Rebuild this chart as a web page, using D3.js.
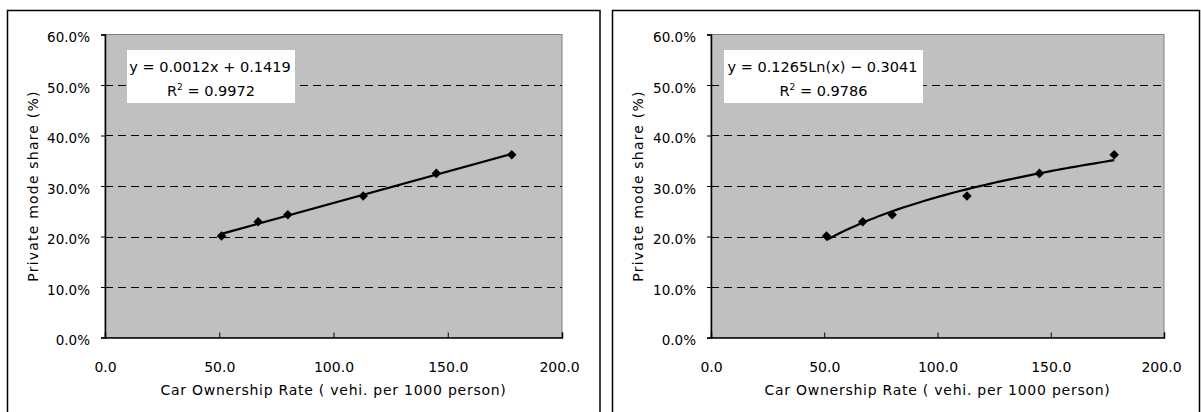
<!DOCTYPE html>
<html>
<head>
<meta charset="utf-8">
<script src="https://cdn.jsdelivr.net/npm/d3@7"></script>
<style>
  html, body { margin: 0; padding: 0; background: #fff; }
  svg { display: block; }
  text { font-family: "DejaVu Sans", sans-serif; fill: #000; }
</style>
</head>
<body>
<svg id="chart" width="1201" height="412"></svg>
<script>
// ---- data ----
const ownership = [51, 67, 80, 113, 145, 178];          // vehicles per 1000 persons
const privateShare = [0.201, 0.229, 0.243, 0.280, 0.325, 0.362]; // private mode share
const xTicks = [0, 50, 100, 150, 200];
const yTicks = [0, 0.1, 0.2, 0.3, 0.4, 0.5, 0.6];
const xTitle = "Car Ownership Rate ( vehi. per 1000 person)";
const yTitle = "Private mode share (%)";
const equationsLinear = ["y = 0.0012x + 0.1419", "0.9972"];
const equationsLog = ["y = 0.1265Ln(x) − 0.3041", "0.9786"];

const svg = d3.select("#chart");
const pts = ownership.map((x, i) => ({x, y: privateShare[i]}));

function linFit(xs, ys) {
  const n = xs.length, mx = d3.mean(xs), my = d3.mean(ys);
  let sxy = 0, sxx = 0;
  for (let i = 0; i < n; i++) { sxy += (xs[i]-mx)*(ys[i]-my); sxx += (xs[i]-mx)**2; }
  const b = sxy / sxx; return {b, a: my - b*mx};
}

function drawChart(cfg) {
  const g = svg.append("g");
  // outer frame
  g.append("path")
    .attr("d", `M${cfg.fx0},${420} V${cfg.fy0} H${cfg.fx1} V${420}`)
    .attr("fill", "none").attr("stroke", "#000").attr("stroke-width", 1.5);

  const x = d3.scaleLinear().domain([0, 200]).range([cfg.left, cfg.right]);
  const y = d3.scaleLinear().domain([0, 0.6]).range([cfg.bottom, cfg.top]);

  // plot area
  g.append("rect").attr("x", cfg.left).attr("y", cfg.top)
    .attr("width", cfg.right - cfg.left).attr("height", cfg.bottom - cfg.top)
    .attr("fill", "#c0c0c0").attr("stroke", "#808080").attr("stroke-width", 1);

  // gridlines
  g.selectAll(".grid").data(yTicks.filter(v => v > 0 && v < 0.6)).enter()
    .append("line")
    .attr("x1", cfg.left).attr("x2", cfg.right)
    .attr("y1", d => Math.round(y(d)) + 0.5).attr("y2", d => Math.round(y(d)) + 0.5)
    .attr("stroke", "#000").attr("stroke-width", 1).attr("stroke-dasharray", "8,5");

  // y axis
  const yAxis = d3.axisLeft(y).tickValues(yTicks).tickSize(4)
    .tickFormat(d => (d*100).toFixed(1) + "%");
  const ya = g.append("g").attr("transform", `translate(${cfg.left},0)`).call(yAxis);
  ya.select(".domain").attr("stroke", "#000").attr("stroke-width", 1.5);
  ya.selectAll(".tick line").attr("stroke", "#000");
  ya.selectAll(".tick text").attr("font-size", "13.5px").attr("x", -15).attr("dy", "0.55em")
    .style("font-family", "DejaVu Sans");

  // x axis
  const xAxis = d3.axisBottom(x).tickValues(xTicks).tickSize(-5)
    .tickFormat(d => d.toFixed(1));
  const xa = g.append("g").attr("transform", `translate(0,${cfg.bottom})`).call(xAxis);
  xa.select(".domain").attr("stroke", "#000").attr("stroke-width", 1.5);
  xa.selectAll(".tick line").attr("stroke", "#000");
  xa.selectAll(".tick text").attr("font-size", "14px").attr("y", 0).attr("dy", "34px")
    .style("font-family", "DejaVu Sans");
  xa.selectAll(".tick").filter(d => d === 200).select("text").attr("dx", "-3px");

  // titles
  g.append("text").attr("x", (cfg.left + cfg.right)/2).attr("y", 395)
    .attr("text-anchor", "middle").attr("font-size", "14px").attr("letter-spacing", "0.75px")
    .text(xTitle);
  g.append("text").attr("transform", `translate(${cfg.ytx},${(cfg.top+cfg.bottom)/2}) rotate(-90)`)
    .attr("text-anchor", "middle").attr("dy", "0.35em").attr("font-size", "14px")
    .attr("letter-spacing", "1.2px").text(yTitle);

  // trend line
  const xmin = d3.min(ownership), xmax = d3.max(ownership);
  let trend;
  if (cfg.type === "linear") {
    const f = linFit(ownership, privateShare);
    trend = [xmin, xmax].map(v => [v, f.a + f.b*v]);
  } else {
    const f = linFit(ownership.map(Math.log), privateShare);
    trend = d3.range(0, 61).map(i => { const v = xmin + (xmax - xmin)*i/60; return [v, f.a + f.b*Math.log(v)]; });
  }
  g.append("path").datum(trend)
    .attr("d", d3.line().x(d => x(d[0])).y(d => y(d[1])))
    .attr("fill", "none").attr("stroke", "#000").attr("stroke-width", 2.2);

  // markers
  g.selectAll(".pt").data(pts).enter().append("path")
    .attr("transform", d => `translate(${x(d.x)},${y(d.y)})`)
    .attr("d", d3.symbol().type(d3.symbolDiamond2).size(58))
    .attr("fill", "#000");

  // equation box
  g.append("rect").attr("x", cfg.bx).attr("y", 50).attr("width", cfg.bw).attr("height", 53)
    .attr("fill", "#fff");
  const cx = cfg.bx + cfg.bw/2;
  g.append("text").attr("x", cx - 1).attr("y", 72).attr("text-anchor", "middle")
    .attr("font-size", "14.5px").text(cfg.eq[0]);
  const r = g.append("text").attr("x", cx).attr("y", 96).attr("text-anchor", "middle")
    .attr("font-size", "14.5px");
  r.append("tspan").text("R");
  r.append("tspan").attr("font-size", "9px").attr("dy", "-6").text("2");
  r.append("tspan").attr("dy", "6").text(" = " + cfg.eq[1]);
}

drawChart({fx0: 7.5, fx1: 600, fy0: 10.5, left: 105, right: 562, top: 34.5, bottom: 337.5,
  ytx: 33, type: "linear", eq: equationsLinear, bx: 127, bw: 168});
drawChart({fx0: 612.5, fx1: 1199.5, fy0: 10.5, left: 711, right: 1164, top: 34.5, bottom: 337.5,
  ytx: 638, type: "log", eq: equationsLog, bx: 724, bw: 199});
</script>
</body>
</html>
